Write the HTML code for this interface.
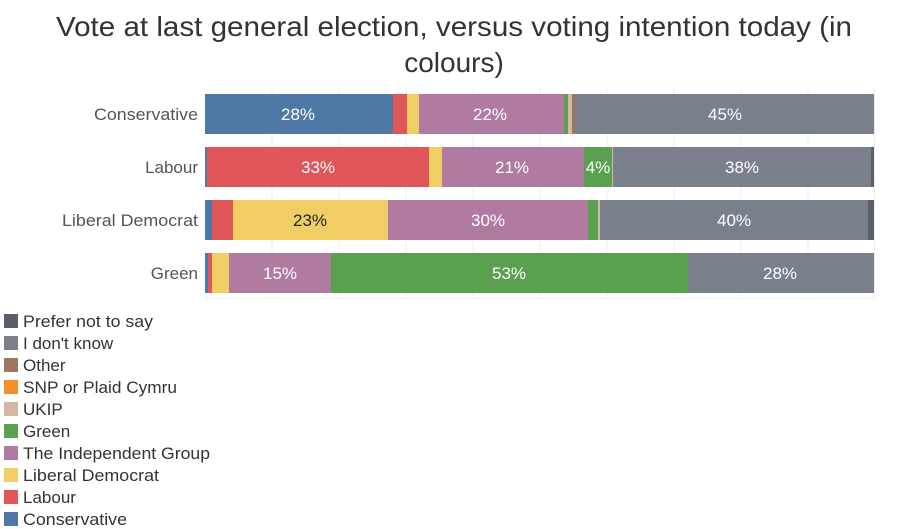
<!DOCTYPE html>
<html><head><meta charset="utf-8"><style>html,body{margin:0;padding:0;background:#fff}svg{display:block}</style></head>
<body>
<svg width="908" height="529" xmlns="http://www.w3.org/2000/svg" font-family="Liberation Sans, sans-serif">
<text x="454" y="36" text-anchor="middle" font-size="28" fill="#333" textLength="796" lengthAdjust="spacingAndGlyphs">Vote at last general election, versus voting intention today (in</text>
<text x="454" y="72" text-anchor="middle" font-size="28" fill="#333">colours)</text>
<g stroke="#eee" stroke-width="1">
<line x1="272" y1="88" x2="272" y2="298"/><line x1="339" y1="88" x2="339" y2="298"/><line x1="406" y1="88" x2="406" y2="298"/><line x1="473" y1="88" x2="473" y2="298"/><line x1="540" y1="88" x2="540" y2="298"/><line x1="607" y1="88" x2="607" y2="298"/><line x1="674" y1="88" x2="674" y2="298"/><line x1="741" y1="88" x2="741" y2="298"/><line x1="808" y1="88" x2="808" y2="298"/><line x1="874.5" y1="88" x2="874.5" y2="298"/>
<line x1="205" y1="298" x2="875" y2="298"/>
</g>
<g font-size="17" fill="#555" text-anchor="end">
<text x="198" y="120" textLength="104" lengthAdjust="spacingAndGlyphs">Conservative</text>
<text x="198" y="173">Labour</text>
<text x="198" y="226" textLength="136" lengthAdjust="spacingAndGlyphs">Liberal Democrat</text>
<text x="198" y="279">Green</text>
</g>
<g>
<rect x="205" y="94" width="188" height="40" fill="#4e79a7"/>
<rect x="393" y="94" width="14" height="40" fill="#e15759"/>
<rect x="407" y="94" width="12" height="40" fill="#f1ce63"/>
<rect x="419" y="94" width="145" height="40" fill="#b07aa1"/>
<rect x="564" y="94" width="4" height="40" fill="#59a14f"/>
<rect x="568" y="94" width="4" height="40" fill="#d7b5a6"/>
<rect x="572" y="94" width="3" height="40" fill="#9d7660"/>
<rect x="575" y="94" width="299" height="40" fill="#79808c"/>
</g>
<g>
<rect x="205" y="147" width="2" height="40" fill="#4e79a7"/>
<rect x="207" y="147" width="222" height="40" fill="#e15759"/>
<rect x="429" y="147" width="13" height="40" fill="#f1ce63"/>
<rect x="442" y="147" width="142" height="40" fill="#b07aa1"/>
<rect x="584" y="147" width="28" height="40" fill="#59a14f"/>
<rect x="612" y="147" width="1" height="40" fill="#d7b5a6"/>
<rect x="613" y="147" width="258" height="40" fill="#79808c"/>
<rect x="871" y="147" width="3" height="40" fill="#5a5e68"/>
</g>
<g>
<rect x="205" y="200" width="7" height="40" fill="#4e79a7"/>
<rect x="212" y="200" width="21" height="40" fill="#e15759"/>
<rect x="233" y="200" width="155" height="40" fill="#f1ce63"/>
<rect x="388" y="200" width="200" height="40" fill="#b07aa1"/>
<rect x="588" y="200" width="10" height="40" fill="#59a14f"/>
<rect x="598" y="200" width="2" height="40" fill="#d7b5a6"/>
<rect x="600" y="200" width="268" height="40" fill="#79808c"/>
<rect x="868" y="200" width="6" height="40" fill="#5a5e68"/>
</g>
<g>
<rect x="205" y="253" width="3" height="40" fill="#4e79a7"/>
<rect x="208" y="253" width="4" height="40" fill="#e15759"/>
<rect x="212" y="253" width="17" height="40" fill="#f1ce63"/>
<rect x="229" y="253" width="102" height="40" fill="#b07aa1"/>
<rect x="331" y="253" width="357" height="40" fill="#59a14f"/>
<rect x="688" y="253" width="186" height="40" fill="#79808c"/>
</g>
<g font-size="17" fill="#fff" text-anchor="middle">
<text x="298" y="120">28%</text><text x="490" y="120">22%</text><text x="725" y="120">45%</text>
<text x="318" y="173">33%</text><text x="512" y="173">21%</text><text x="598" y="173">4%</text><text x="742" y="173">38%</text>
<text x="310" y="226" fill="#222">23%</text><text x="488" y="226">30%</text><text x="734" y="226">40%</text>
<text x="280" y="279">15%</text><text x="509" y="279">53%</text><text x="780" y="279">28%</text>
</g>
<g font-size="17" fill="#333">
<rect x="4" y="314" width="14" height="14" fill="#5a5e68"/><text x="23" y="327" textLength="130" lengthAdjust="spacingAndGlyphs">Prefer not to say</text>
<rect x="4" y="336" width="14" height="14" fill="#79808c"/><text x="23" y="349">I don't know</text>
<rect x="4" y="358" width="14" height="14" fill="#9d7660"/><text x="23" y="371">Other</text>
<rect x="4" y="380" width="14" height="14" fill="#f28e2b"/><text x="23" y="393" textLength="154" lengthAdjust="spacingAndGlyphs">SNP or Plaid Cymru</text>
<rect x="4" y="402" width="14" height="14" fill="#d7b5a6"/><text x="23" y="415">UKIP</text>
<rect x="4" y="424" width="14" height="14" fill="#59a14f"/><text x="23" y="437">Green</text>
<rect x="4" y="446" width="14" height="14" fill="#b07aa1"/><text x="23" y="459" textLength="187" lengthAdjust="spacingAndGlyphs">The Independent Group</text>
<rect x="4" y="468" width="14" height="14" fill="#f1ce63"/><text x="23" y="481" textLength="136" lengthAdjust="spacingAndGlyphs">Liberal Democrat</text>
<rect x="4" y="490" width="14" height="14" fill="#e15759"/><text x="23" y="503">Labour</text>
<rect x="4" y="512" width="14" height="14" fill="#4e79a7"/><text x="23" y="525" textLength="104" lengthAdjust="spacingAndGlyphs">Conservative</text>
</g>
</svg>
</body></html>
